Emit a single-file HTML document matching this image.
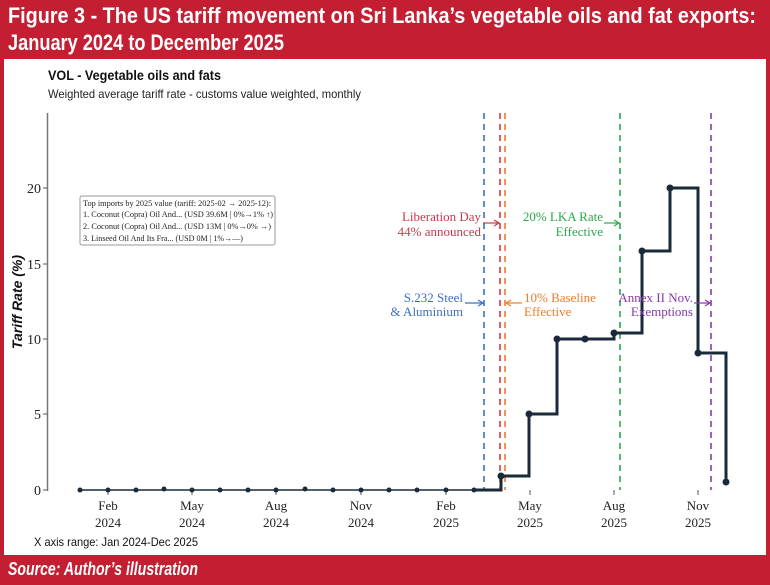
<!DOCTYPE html>
<html><head><meta charset="utf-8"><style>
body{margin:0;width:770px;height:585px;overflow:hidden;background:#fff;font-family:"Liberation Sans",sans-serif}
</style></head><body>
<svg width="770" height="585" xmlns="http://www.w3.org/2000/svg" style="position:absolute;left:0;top:0">
<rect x="0" y="0" width="770" height="585" fill="#c41e32"/>
<rect x="4" y="59" width="762" height="496" fill="#fff"/>
<g font-family="Liberation Sans Narrow, Liberation Sans, sans-serif" font-weight="bold" fill="#fff" font-size="22">
<text x="8" y="23" textLength="748" lengthAdjust="spacingAndGlyphs">Figure 3 - The US tariff movement on Sri Lanka’s vegetable oils and fat exports:</text>
<text x="8" y="50" textLength="276" lengthAdjust="spacingAndGlyphs">January 2024 to December 2025</text>
<text x="8" y="575" font-size="18" font-style="italic" textLength="190" lengthAdjust="spacingAndGlyphs">Source: Author’s illustration</text>
</g>
<text x="48" y="80" font-size="14" font-weight="bold" fill="#111" textLength="173" lengthAdjust="spacingAndGlyphs">VOL - Vegetable oils and fats</text>
<text x="48" y="98" font-size="12" fill="#222" textLength="313" lengthAdjust="spacingAndGlyphs">Weighted average tariff rate - customs value weighted, monthly</text>
<text x="34" y="546" font-size="12" fill="#111" textLength="164" lengthAdjust="spacingAndGlyphs">X axis range: Jan 2024-Dec 2025</text>
<!-- axis -->
<line x1="47.5" y1="113" x2="47.5" y2="491" stroke="#777" stroke-width="1.5"/>
<g stroke="#555" stroke-width="1"><line x1="43" y1="490" x2="47" y2="490"/><line x1="43" y1="414" x2="47" y2="414"/><line x1="43" y1="339" x2="47" y2="339"/><line x1="43" y1="264" x2="47" y2="264"/><line x1="43" y1="188" x2="47" y2="188"/></g>
<g font-family="Liberation Serif,serif" font-size="14" fill="#222" text-anchor="end">
<text x="41" y="495">0</text><text x="41" y="419">5</text><text x="41" y="344">10</text><text x="41" y="269">15</text><text x="41" y="193">20</text></g>
<text transform="translate(22,302) rotate(-90)" font-size="14" font-weight="bold" font-style="italic" text-anchor="middle" fill="#111">Tariff Rate (%)</text>
<g font-family="Liberation Serif,serif" font-size="13" fill="#222" text-anchor="middle">
<text x="108" y="510">Feb</text><text x="108" y="527">2024</text>
<text x="192" y="510">May</text><text x="192" y="527">2024</text>
<text x="276" y="510">Aug</text><text x="276" y="527">2024</text>
<text x="361" y="510">Nov</text><text x="361" y="527">2024</text>
<text x="446" y="510">Feb</text><text x="446" y="527">2025</text>
<text x="530" y="510">May</text><text x="530" y="527">2025</text>
<text x="614" y="510">Aug</text><text x="614" y="527">2025</text>
<text x="698" y="510">Nov</text><text x="698" y="527">2025</text></g>
<g stroke="#555"><line x1="108" y1="490" x2="108" y2="495"/><line x1="192" y1="490" x2="192" y2="495"/><line x1="276" y1="490" x2="276" y2="495"/><line x1="361" y1="490" x2="361" y2="495"/><line x1="446" y1="490" x2="446" y2="495"/><line x1="530" y1="490" x2="530" y2="495"/><line x1="614" y1="490" x2="614" y2="495"/><line x1="698" y1="490" x2="698" y2="495"/></g>
<!-- vlines -->
<g stroke-width="1.6" stroke-dasharray="6,5" fill="none">
<line x1="484" y1="113" x2="484" y2="490" stroke="#3a6fc4"/>
<line x1="500" y1="113" x2="500" y2="490" stroke="#d23a4a"/>
<line x1="505" y1="113" x2="505" y2="490" stroke="#f07a2a"/>
<line x1="620" y1="113" x2="620" y2="490" stroke="#2aa84a"/>
<line x1="711" y1="113" x2="711" y2="490" stroke="#8a3aa8"/>
</g>
<!-- series -->
<polyline fill="none" stroke="#1a2a3a" stroke-width="1.5" points="80,490 474,490"/>
<polyline fill="none" stroke="#1a2a3a" stroke-width="3" points="474,490 501,490 501,476 529,476 529,414 557,414 557,339 585,339 585,339 614,339 614,333 642,333 642,251 670,251 670,188 698,188 698,353 726,353 726,482"/>
<g fill="#1a2a3a">
<circle cx="80" cy="490" r="2.5"/><circle cx="108" cy="490" r="2.5"/><circle cx="136" cy="490" r="2.5"/><circle cx="164" cy="489" r="2.5"/><circle cx="192" cy="490" r="2.5"/><circle cx="220" cy="490" r="2.5"/><circle cx="248" cy="490" r="2.5"/><circle cx="276" cy="490" r="2.5"/><circle cx="305" cy="489" r="2.5"/><circle cx="333" cy="490" r="2.5"/><circle cx="361" cy="490" r="2.5"/><circle cx="389" cy="490" r="2.5"/><circle cx="417" cy="490" r="2.5"/><circle cx="446" cy="490" r="2.5"/><circle cx="474" cy="490" r="2.5"/>
<circle cx="501" cy="476" r="3.5"/><circle cx="529" cy="414" r="3.5"/><circle cx="557" cy="339" r="3.5"/><circle cx="585" cy="339" r="3.5"/><circle cx="614" cy="333" r="3.5"/><circle cx="642" cy="251" r="3.5"/><circle cx="670" cy="188" r="3.5"/><circle cx="698" cy="353" r="3.5"/><circle cx="726" cy="482" r="3.5"/></g>
<!-- annotations -->
<g font-family="Liberation Serif,serif" font-size="13" text-anchor="end">
<text x="481" y="221" fill="#c83a4a">Liberation Day</text><text x="481" y="236" fill="#c83a4a">44% announced</text>
<text x="463" y="302" fill="#3a6fc4">S.232 Steel</text><text x="463" y="316" fill="#3a6fc4">&amp; Aluminium</text>
<text x="603" y="221" fill="#2aa84a">20% LKA Rate</text><text x="603" y="236" fill="#2aa84a">Effective</text>
<text x="693" y="302" fill="#8a3aa8">Annex II Nov.</text><text x="693" y="316" fill="#8a3aa8">Exemptions</text>
<text x="524" y="302" fill="#f07a2a" text-anchor="start">10% Baseline</text><text x="524" y="316" fill="#f07a2a" text-anchor="start">Effective</text>
</g>
<g stroke-width="1.2" fill="none">
<line x1="483" y1="223" x2="498" y2="223" stroke="#c83a4a"/><path d="M494,220 L499,223 L494,226" stroke="#c83a4a"/>
<line x1="465" y1="303" x2="482" y2="303" stroke="#3a6fc4"/><path d="M478,300 L483,303 L478,306" stroke="#3a6fc4"/>
<line x1="604" y1="223" x2="618" y2="223" stroke="#2aa84a"/><path d="M614,220 L619,223 L614,226" stroke="#2aa84a"/>
<line x1="694" y1="303" x2="709" y2="303" stroke="#8a3aa8"/><path d="M705,300 L710,303 L705,306" stroke="#8a3aa8"/>
<line x1="507" y1="303" x2="522" y2="303" stroke="#f07a2a"/><path d="M511,300 L506,303 L511,306" stroke="#f07a2a"/>
</g>
<!-- legend box -->
<rect x="80" y="196" width="195" height="49" fill="#fff" stroke="#999" stroke-width="1" rx="2"/>
<g font-family="Liberation Serif,serif" font-size="8" fill="#222">
<text x="83" y="206" textLength="188" lengthAdjust="spacingAndGlyphs">Top imports by 2025 value (tariff: 2025-02 → 2025-12):</text>
<text x="83" y="217" textLength="190" lengthAdjust="spacingAndGlyphs">1. Coconut (Copra) Oil And...  (USD 39.6M | 0%→1% ↑)</text>
<text x="83" y="229" textLength="188" lengthAdjust="spacingAndGlyphs">2. Coconut (Copra) Oil And...  (USD 13M | 0%→0% →)</text>
<text x="83" y="241" textLength="160" lengthAdjust="spacingAndGlyphs">3. Linseed Oil And Its Fra...  (USD 0M | 1%→—)</text>
</g>
</svg>
</body></html>
